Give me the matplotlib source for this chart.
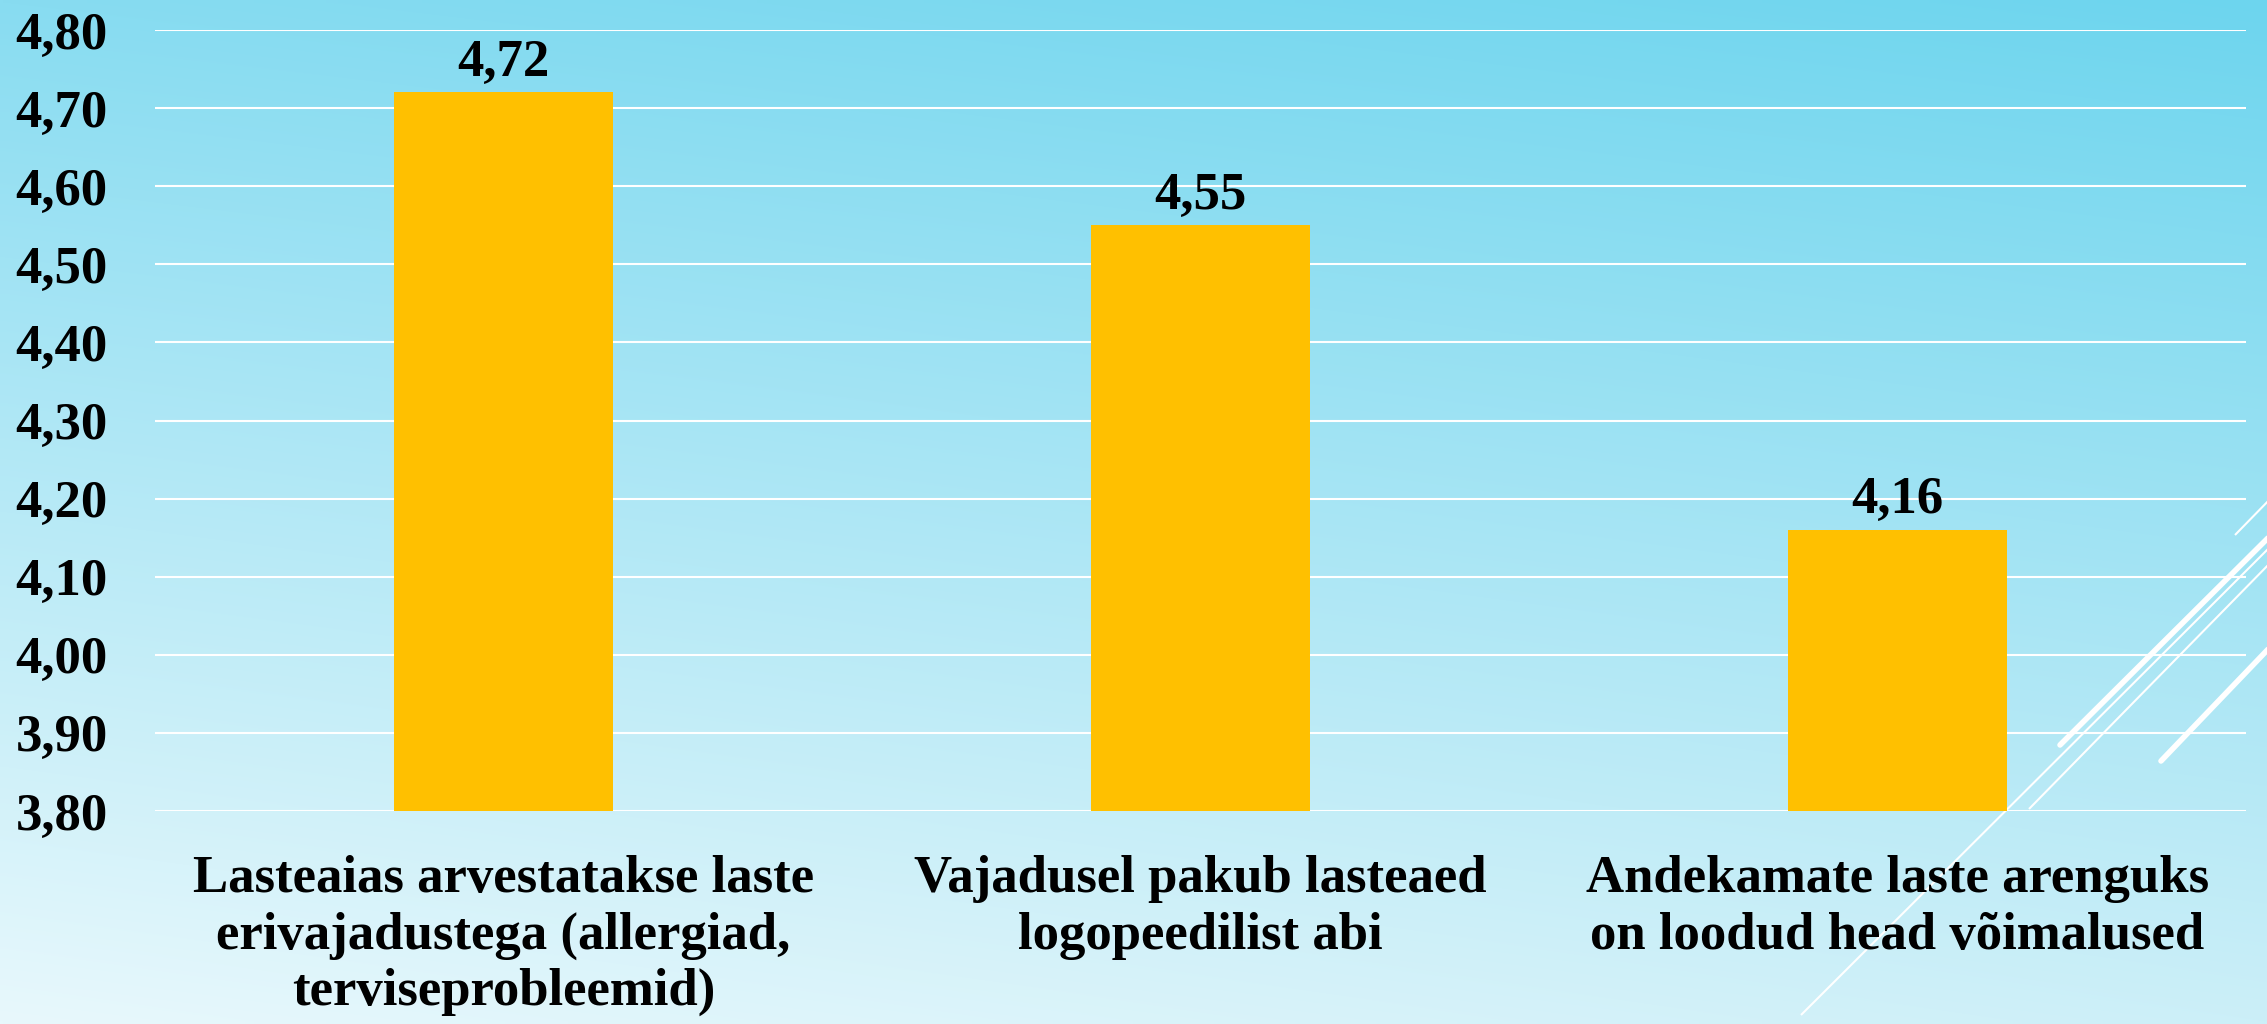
import numpy as np
import matplotlib
matplotlib.use("Agg")
import matplotlib.pyplot as plt
from matplotlib.lines import Line2D

plt.rcParams['font.family'] = ['Liberation Serif', 'DejaVu Serif']
plt.rcParams['font.weight'] = 'bold'

categories = [
    "Lasteaias arvestatakse laste\nerivajadustega (allergiad,\nterviseprobleemid)",
    "Vajadusel pakub lasteaed\nlogopeedilist abi",
    "Andekamate laste arenguks\non loodud head võimalused",
]
values = [4.72, 4.55, 4.16]
yticks = [3.80, 3.90, 4.00, 4.10, 4.20, 4.30, 4.40, 4.50, 4.60, 4.70, 4.80]

W, H = 2267, 1024
DPI = 100
FS = 38
fig = plt.figure(figsize=(W / DPI, H / DPI), dpi=DPI)

# background gradient
bg = fig.add_axes([0, 0, 1, 1], zorder=-10)
bg.set_axis_off()
tl = np.array([0x88, 0xdc, 0xf1]) / 255
tr = np.array([0x6d, 0xd5, 0xee]) / 255
bl = np.array([0xe8, 0xf8, 0xfc]) / 255
br = np.array([0xcc, 0xef, 0xf8]) / 255
ny, nx = 200, 400
yy, xx = np.mgrid[0:1:ny * 1j, 0:1:nx * 1j]
img = (tl[None, None, :] * ((1 - xx) * (1 - yy))[..., None]
       + tr[None, None, :] * (xx * (1 - yy))[..., None]
       + bl[None, None, :] * ((1 - xx) * yy)[..., None]
       + br[None, None, :] * (xx * yy)[..., None])
bg.imshow(img, extent=[0, 1, 0, 1], aspect='auto', origin='upper', interpolation='bilinear')
bg.set_xlim(0, 1)
bg.set_ylim(0, 1)

# decorative diagonal lines (pixel coords, y from top)
deco = [
    ((2235, 535), (2275, 494), 1.5, 'butt'),
    ((2060, 745), (2275, 531), 4.0, 'round'),
    ((1801, 1015), (2275, 542), 1.5, 'butt'),
    ((2029, 809), (2275, 558), 1.5, 'butt'),
    ((2161, 761), (2275, 642), 4.0, 'round'),
]
for (x0, y0), (x1, y1), lw, cap in deco:
    bg.add_line(Line2D([x0 / W, x1 / W], [1 - y0 / H, 1 - y1 / H], color='white',
                       lw=lw, solid_capstyle=cap, transform=bg.transAxes))

ax = fig.add_axes([155 / W, 1 - 811 / H, (2246 - 155) / W, (811 - 30) / H])
ax.patch.set_alpha(0)
x = np.arange(len(categories))
bars = ax.bar(x, values, width=0.313, color='#FFC000', zorder=3)
ax.set_xlim(-0.5, 2.5)
ax.set_ylim(3.80, 4.80)
ax.set_yticks(yticks)
ax.set_yticklabels([f"{v:.2f}".replace('.', ',') for v in yticks], fontsize=FS, fontweight='bold')
ax.set_xticks(x)
ax.set_xticklabels(categories, fontsize=FS, fontweight='bold', linespacing=1.22)
ax.tick_params(axis='y', length=0, pad=34)
ax.tick_params(axis='x', length=0, pad=32)
ax.grid(axis='y', color='white', lw=1.5, zorder=1)
for s in ax.spines.values():
    s.set_visible(False)

for b, v in zip(bars, values):
    ax.annotate(f"{v:.2f}".replace('.', ','), (b.get_x() + b.get_width() / 2, v),
                xytext=(0, 12), textcoords='offset points', ha='center', va='baseline',
                fontsize=FS, fontweight='bold')

fig.savefig('out.png', dpi=DPI)
